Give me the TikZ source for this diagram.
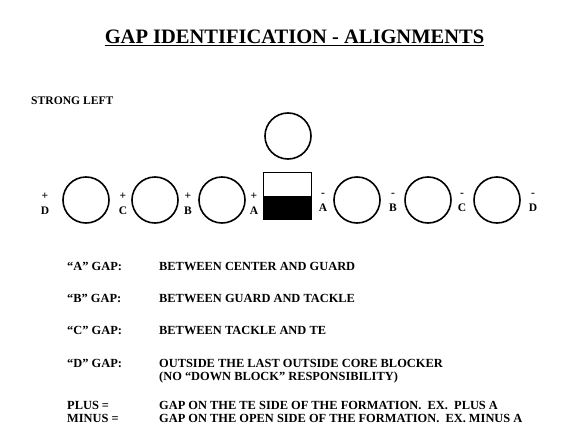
\documentclass[tikz,border=0pt]{standalone}
\usepackage{fontspec}
\setmainfont{Liberation Serif}

\begin{document}
\begin{tikzpicture}[x=1pt,y=-1pt,
        player/.style={draw,circle,line width=1.6pt,minimum size=46pt,inner sep=0pt},
        gaplbl/.style={font=\bfseries\fontsize{11.5}{15}\selectfont,align=center,inner sep=0pt},
        keytxt/.style={font=\bfseries\fontsize{12.4}{12}\selectfont,anchor=base west,inner sep=0pt}]
                \useasboundingbox (0,0) rectangle (576,447);

                \node[font=\bfseries\fontsize{20.5}{24}\selectfont,anchor=base,inner sep=0pt] (title) at (294.5,43) {GAP IDENTIFICATION - ALIGNMENTS};
                \draw[line width=1.1pt] ([yshift=-2.5pt]title.south west) -- ([yshift=-2.5pt]title.south east);
                \node[font=\bfseries\fontsize{11.6}{14}\selectfont,anchor=base west,inner sep=0pt] (side) at (31,104) {STRONG LEFT};

                % backfield and center
                \node[player] (back) at (288,136) {};
                \node[draw,line width=1.6pt,minimum width=48pt,minimum height=47pt,inner sep=0pt] (ctr) at (287.5,196) {};
                \fill (ctr.west) rectangle (ctr.south east);

                % line
                \foreach \nm/\x in {ld/86,lc/155,lb/222,ra/357,rb/428,rc/497} \node[player] (\nm) at (\x,200) {};

                % gap marks
                \foreach \nm/\x/\l in {pd/45/D,pc/123/C,pb/188/B,pa/254/A} \node[gaplbl] (\nm) at (\x,204) {+\\\l};
                \foreach \nm/\x/\l in {ma/323/A,mb/393/B,mc/462/C,md/533/D} \node[gaplbl] (\nm) at (\x,202) {-\\\l};

                % key
                \node[keytxt] (ka) at (67,270) {“A” GAP:};
                \node[keytxt] (kat) at (159,270) {BETWEEN CENTER AND GUARD};
                \node[keytxt] (kb) at (67,302) {“B” GAP:};
                \node[keytxt] (kbt) at (159,302) {BETWEEN GUARD AND TACKLE};
                \node[keytxt] (kc) at (67,334) {“C” GAP:};
                \node[keytxt] (kct) at (159,334) {BETWEEN TACKLE AND TE};
                \node[keytxt] (kd) at (67,367) {“D” GAP:};
                \node[keytxt] (kdt) at (159,367) {OUTSIDE THE LAST OUTSIDE CORE BLOCKER};
                \node[keytxt] (kdt2) at (159,380.5) {(NO “DOWN BLOCK” RESPONSIBILITY)};
                \node[keytxt] (kp) at (67,409) {PLUS =};
                \node[keytxt] (kpt) at (159,409) {GAP ON THE TE SIDE OF THE FORMATION.\ \ EX.\ \ PLUS A};
                \node[keytxt] (km) at (67,422.5) {MINUS =};
                \node[keytxt] (kmt) at (159,422.5) {GAP ON THE OPEN SIDE OF THE FORMATION.\ \ EX. MINUS A};
            \end{tikzpicture}
\end{document}
